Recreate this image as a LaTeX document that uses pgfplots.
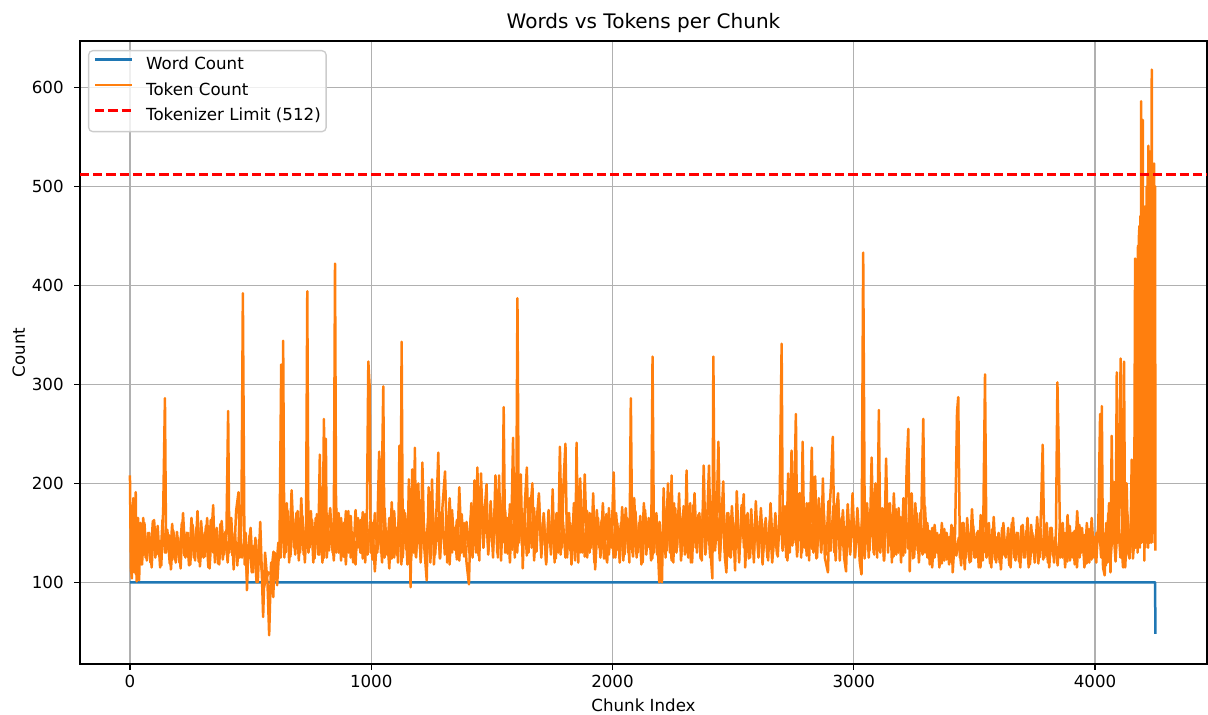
\documentclass[border=0pt]{standalone}
\usepackage{fontspec}
\setmainfont{DejaVu Sans}
\usepackage{pgfplots}
\pgfplotsset{compat=1.18}
\definecolor{mplblue}{HTML}{1F77B4}
\definecolor{mplorange}{HTML}{FF7F0E}
\definecolor{gridgray}{HTML}{B0B0B0}
\definecolor{legedge}{HTML}{CCCCCC}
\begin{document}
\begin{tikzpicture}
\begin{axis}[
  name=ax,
  scale only axis,
  width=676.2pt, height=373.8pt,
  xmin=-207, xmax=4464, ymin=17.5, ymax=646.8,
  xtick={0,1000,2000,3000,4000},
  ytick={100,200,300,400,500,600},
  scaled ticks=false,
  /pgf/number format/1000 sep={},
  /pgf/number format/assume math mode=true,
  tick pos=left,
  tick align=outside,
  major tick length=3.5pt,
  tick style={black, line width=0.8pt},
  axis line style={black, line width=0.8pt},
  grid=major,
  major grid style={gridgray, line width=0.8pt},
  tick label style={font=\fontsize{10}{12}\selectfont},
  xticklabel style={anchor=base, inner sep=0pt, yshift=-10.9pt},
  yticklabel style={anchor=east, inner sep=0pt, xshift=-6.1pt},
  xlabel={Chunk Index},
  ylabel={Count},
  xlabel style={at={([yshift=-28.5pt]axis description cs:0.5,0)}, anchor=base, inner sep=0pt, font=\fontsize{10}{12}\selectfont},
  ylabel style={at={([xshift=-33pt]axis description cs:0,0.5)}, anchor=base, inner sep=0pt, font=\fontsize{10}{12}\selectfont},
  title={Words vs Tokens per Chunk},
  every axis title/.style={at={([yshift=7.2pt]axis description cs:0.5,1)}, anchor=base, inner sep=0pt, font=\fontsize{12}{14.4}\selectfont},
  legend cell align=left,
  legend style={at={(0,1)}, anchor=north west, xshift=4.8pt, yshift=-5.4pt,
    draw=legedge, line width=0.8pt, rounded corners=2.5pt, fill=white, fill opacity=0.8, text opacity=1,
    inner xsep=3.2pt, inner ysep=1.35pt, column sep=7.8pt,
    nodes={inner sep=0pt, text height=10.2pt, text depth=5.1pt, font=\fontsize{10}{12}\selectfont}},
  legend image code/.code={\draw[#1] (0pt,3.6pt) -- (22pt,3.6pt);},
]
\addplot[mplblue, line width=1.5pt, line join=round] coordinates {(0,100)(4249,100)(4250,48)};
\addlegendentry{Word Count}
\addplot[mplorange, line width=1.5pt, line join=round] coordinates {
(0,208)(4,115)(8,104)(14,185)(18,110)(24,191)(28,101)(34,165)(38,102)(44,160)(50,118)(60,160)(70,122)(80,150)(90,115)(100,163)(110,128)(120,140)(130,117)(138,175)(145,286)(150,130)(160,148)(170,113)(180,152)(190,120)(200,145)(210,114)(220,170)(230,125)(240,150)(250,118)(260,158)(270,122)(280,172)(290,116)(300,150)(310,126)(320,165)(330,114)(338,148)(345,178)(352,120)(360,155)(370,118)(380,162)(390,128)(400,150)(407,273)(412,130)(420,165)(430,113)(440,172)(450,191)(455,125)(462,160)(468,392)(475,118)(480,150)(485,92)(490,130)(500,155)(510,110)(520,145)(530,100)(540,161)(546,115)(552,65)(560,130)(570,100)(577,46.5)(585,120)(594,85)(600,130)(610,97)(620,140)(627,320)(631,150)(635,344)(640,125)(650,180)(660,120)(670,193)(680,135)(690,170)(700,122)(710,185)(720,128)(730,160)(735,394)(740,130)(750,172)(760,120)(770,165)(780,128)(787,229)(792,140)(798,120)(804,265)(808,150)(812,245)(816,125)(824,160)(830,175)(840,130)(845,160)(850,422)(855,130)(865,170)(875,122)(885,160)(895,118)(905,172)(915,125)(925,150)(935,118)(945,165)(955,130)(965,171)(975,120)(982,160)(988,323)(993,300)(998,130)
(1005,160)(1015,111)(1025,150)(1033,232)(1040,130)(1046,230)(1050,298)(1055,125)(1065,150)(1075,114)(1085,181)(1095,125)(1105,155)(1111,120)(1117,238)(1122,150)(1126,343)(1131,125)(1140,170)(1150,118)(1156,204)(1163,95)(1170,214)(1176,130)(1181,236)(1186,125)(1195,200)(1205,120)(1212,221)(1220,135)(1230,102)(1238,196)(1245,130)(1252,204)(1260,118)(1270,170)(1278,231)(1285,125)(1295,175)(1306,212)(1315,120)(1325,185)(1335,130)(1345,155)(1355,123)(1365,196)(1375,130)(1385,160)(1395,120)(1405,98)(1412,165)(1420,125)(1428,203)(1434,130)(1440,216)(1448,122)(1455,210)(1465,135)(1471,175)(1478,199)(1485,128)(1495,170)(1505,125)(1515,208)(1522,130)(1530,208)(1538,122)(1544,160)(1549,277)(1555,130)(1565,165)(1575,120)(1582,170)(1588,246)(1595,125)(1601,160)(1606,387)(1612,140)(1620,209)(1628,114)(1637,180)(1645,216)(1652,130)(1660,175)(1668,200)(1675,122)(1685,160)(1695,190)(1705,125)(1715,170)(1725,118)(1735,165)(1745,128)(1752,194)(1760,120)(1768,170)(1775,130)(1782,237)(1790,135)(1797,200)(1805,240)(1812,125)(1820,170)(1830,118)(1840,180)(1846,130)(1851,241)(1858,120)(1866,205)(1875,130)(1885,209)(1895,125)(1905,170)(1912,135)(1920,190)(1928,113)(1940,165)(1950,125)(1960,180)(1970,130)(1978,120)(1985,175)(1995,135)
(2005,211)(2012,125)(2020,160)(2030,120)(2040,176)(2050,128)(2060,165)(2070,120)(2076,286)(2082,130)(2090,185)(2100,125)(2110,160)(2120,118)(2130,180)(2140,128)(2150,165)(2160,122)(2166,328)(2172,130)(2182,170)(2194,100)(2200,150)(2205,100)(2212,195)(2220,125)(2230,200)(2238,130)(2245,208)(2252,120)(2260,175)(2268,135)(2276,190)(2284,122)(2292,170)(2300,128)(2307,213)(2314,125)(2322,180)(2330,120)(2340,190)(2350,130)(2360,170)(2370,122)(2378,218)(2386,130)(2394,175)(2400,218)(2408,125)(2414,104)(2418,328)(2424,140)(2432,170)(2439,242)(2446,130)(2452,165)(2459,202)(2466,125)(2472,110)(2480,170)(2490,125)(2500,160)(2508,112)(2515,192)(2525,130)(2535,160)(2544,189)(2550,115)(2560,170)(2570,125)(2578,160)(2586,120)(2594,182)(2604,130)(2612,165)(2622,118)(2632,160)(2642,125)(2652,163)(2662,120)(2672,155)(2682,128)(2692,165)(2701,341)(2706,135)(2712,176)(2720,125)(2728,210)(2735,130)(2742,233)(2750,140)(2755,205)(2760,270)(2766,130)(2775,190)(2782,125)(2788,242)(2795,135)(2805,180)(2815,122)(2826,236)(2833,130)(2840,207)(2848,125)(2856,180)(2865,130)(2872,205)(2880,125)(2893,110)(2900,175)(2906,200)(2913,247)(2920,130)(2928,175)(2935,190)(2942,122)(2950,165)(2960,125)(2968,111)(2975,170)(2985,128)(2995,190)
(3005,125)(3015,165)(3025,120)(3032,108)(3039,433)(3046,130)(3054,175)(3062,125)(3068,160)(3074,226)(3082,130)(3090,200)(3097,125)(3104,274)(3110,130)(3118,175)(3126,122)(3134,225)(3142,130)(3150,180)(3158,120)(3166,190)(3176,128)(3186,175)(3196,120)(3206,185)(3213,130)(3219,215)(3226,255)(3232,111)(3240,190)(3250,125)(3260,170)(3270,120)(3280,165)(3288,265)(3295,130)(3305,160)(3315,118)(3325,155)(3335,125)(3345,150)(3355,115)(3365,160)(3375,122)(3385,150)(3395,118)(3405,158)(3410,110)(3420,150)(3428,272)(3433,287)(3440,125)(3450,160)(3460,113)(3470,165)(3480,120)(3490,174)(3500,125)(3510,150)(3518,115)(3526,168)(3535,122)(3544,310)(3550,125)(3560,160)(3570,115)(3580,166)(3590,120)(3600,150)(3610,113)(3620,160)(3630,125)(3640,155)(3650,115)(3660,165)(3670,122)(3680,150)(3690,115)(3700,158)(3710,125)(3720,165)(3730,118)(3740,150)(3750,120)(3760,166)(3770,125)(3777,181)(3783,239)(3790,125)(3800,160)(3810,115)(3820,155)(3830,120)(3838,150)(3844,302)(3850,225)(3856,125)(3866,160)(3876,115)(3886,168)(3896,122)(3906,150)(3916,118)(3926,172)(3936,125)(3946,155)(3956,115)(3966,160)(3976,120)(3986,165)(3996,125)
(4006,150)(4013,150)(4021,270)(4025,125)(4028,278)(4033,115)(4040,107)(4046,160)(4052,120)(4058,180)(4064,110)(4069,248)(4074,150)(4080,201)(4085,125)(4090,312)(4096,140)(4101,201)(4106,326)(4112,130)(4116,115)(4120,323)(4125,124)(4131,200)(4137,130)(4143,124)(4148,160)(4152,224)(4157,124)(4162,140)
(4166,427)(4168,135)(4170,415)(4172,140)(4174,425)(4176,130)(4178,440)(4180,150)(4182,450)(4184,460)(4186,135)(4188,470)(4190,145)(4191,586)(4193,140)(4195,500)(4197,180)(4198,567)(4200,258)(4202,480)(4204,122)(4206,470)(4208,135)(4210,480)(4212,140)(4214,500)(4216,150)(4218,510)(4220,135)(4221,541)(4223,150)(4225,490)(4227,140)(4228,535)(4230,185)(4232,500)(4234,140)(4235,618)(4237,185)(4239,510)(4241,150)(4243,490)(4245,523)(4247,140)(4249,500)(4250,132)
};
\addlegendentry{Token Count}
\addplot[mplorange, line width=1.5pt, line join=round, forget plot] coordinates {
(5,110)(15,175)(25,108)(35,160)(45,118)(55,165)(65,125)(75,150)(85,120)(95,162)
(105,125)(115,157)(125,115)(135,163)(145,130)(155,153)(165,119)(175,159)(185,123)(195,151)
(205,120)(215,160)(225,127)(235,150)(245,117)(255,165)(265,125)(275,155)(285,121)(295,162)
(305,125)(315,157)(325,115)(335,163)(345,130)(355,153)(365,119)(375,159)(385,123)(395,151)
(405,120)(415,160)(425,127)(435,150)(445,117)(455,165)(465,125)(475,140)(485,106)(495,147)
(505,110)(515,137)(525,100)(535,143)(545,115)(555,95)(565,104)(575,110)(585,108)(595,131)
(605,110)(615,140)(625,125)(635,170)(645,130)(655,172)(665,126)(675,165)(685,128)(695,172)
(705,130)(715,167)(725,120)(735,173)(745,135)(755,163)(765,124)(775,169)(785,128)(795,161)
(805,125)(815,170)(825,132)(835,160)(845,122)(855,175)(865,130)(875,165)(885,126)(895,172)
(905,130)(915,167)(925,120)(935,173)(945,135)(955,163)(965,124)(975,169)(985,128)(995,161)
(1005,123)(1015,170)(1025,130)(1035,160)(1045,120)(1055,175)(1065,128)(1075,165)(1085,124)(1095,172)
(1105,128)(1115,167)(1125,118)(1135,173)(1145,133)(1155,163)(1165,122)(1175,169)(1185,126)(1195,161)
(1205,123)(1215,170)(1225,130)(1235,160)(1245,120)(1255,175)(1265,128)(1275,165)(1285,124)(1295,172)
(1305,128)(1315,167)(1325,118)(1335,173)(1345,133)(1355,163)(1365,122)(1375,169)(1385,126)(1395,161)
(1405,130)(1415,180)(1425,137)(1435,170)(1445,127)(1455,185)(1465,135)(1475,175)(1485,131)(1495,182)
(1505,135)(1515,177)(1525,125)(1535,183)(1545,140)(1555,173)(1565,129)(1575,179)(1585,133)(1595,171)
(1605,130)(1615,180)(1625,137)(1635,170)(1645,127)(1655,185)(1665,135)(1675,175)(1685,131)(1695,182)
(1705,130)(1715,167)(1725,120)(1735,173)(1745,135)(1755,163)(1765,124)(1775,169)(1785,128)(1795,161)
(1805,125)(1815,170)(1825,132)(1835,160)(1845,122)(1855,175)(1865,130)(1875,165)(1885,126)(1895,172)
(1905,130)(1915,167)(1925,120)(1935,173)(1945,135)(1955,163)(1965,124)(1975,169)(1985,128)(1995,161)
(2005,125)(2015,170)(2025,132)(2035,160)(2045,122)(2055,175)(2065,130)(2075,165)(2085,126)(2095,172)
(2105,130)(2115,167)(2125,120)(2135,173)(2145,135)(2155,163)(2165,124)(2175,169)(2185,128)(2195,161)
(2205,125)(2215,175)(2225,132)(2235,165)(2245,122)(2255,180)(2265,130)(2275,170)(2285,126)(2295,177)
(2305,130)(2315,172)(2325,120)(2335,178)(2345,135)(2355,168)(2365,124)(2375,174)(2385,128)(2395,166)
(2405,125)(2415,175)(2425,132)(2435,165)(2445,122)(2455,180)(2465,130)(2475,170)(2485,126)(2495,177)
(2505,130)(2515,172)(2525,120)(2535,178)(2545,135)(2555,168)(2565,124)(2575,174)(2585,128)(2595,166)
(2605,125)(2615,175)(2625,132)(2635,165)(2645,122)(2655,180)(2665,130)(2675,170)(2685,126)(2695,177)
(2705,132)(2715,177)(2725,122)(2735,183)(2745,137)(2755,173)(2765,126)(2775,179)(2785,130)(2795,171)
(2805,127)(2815,180)(2825,134)(2835,170)(2845,124)(2855,185)(2865,132)(2875,175)(2885,128)(2895,182)
(2905,132)(2915,177)(2925,122)(2935,183)(2945,137)(2955,173)(2965,126)(2975,179)(2985,130)(2995,171)
(3005,127)(3015,175)(3025,134)(3035,165)(3045,124)(3055,180)(3065,132)(3075,170)(3085,128)(3095,177)
(3105,132)(3115,172)(3125,122)(3135,178)(3145,137)(3155,168)(3165,126)(3175,174)(3185,130)(3195,166)
(3205,127)(3215,175)(3225,134)(3235,165)(3245,124)(3255,180)(3265,132)(3275,170)(3285,128)(3295,177)
(3305,125)(3315,152)(3325,115)(3335,158)(3345,130)(3355,148)(3365,119)(3375,154)(3385,123)(3395,146)
(3405,120)(3415,155)(3425,127)(3435,145)(3445,117)(3455,160)(3465,125)(3475,150)(3485,121)(3495,157)
(3505,125)(3515,152)(3525,115)(3535,158)(3545,130)(3555,148)(3565,119)(3575,154)(3585,123)(3595,146)
(3605,120)(3615,155)(3625,127)(3635,145)(3645,117)(3655,160)(3665,125)(3675,150)(3685,121)(3695,157)
(3705,125)(3715,152)(3725,115)(3735,158)(3745,130)(3755,148)(3765,119)(3775,154)(3785,123)(3795,146)
(3805,120)(3815,155)(3825,127)(3835,145)(3845,117)(3855,160)(3865,125)(3875,150)(3885,121)(3895,157)
(3905,125)(3915,152)(3925,115)(3935,158)(3945,130)(3955,148)(3965,119)(3975,154)(3985,123)(3995,146)
(4005,120)(4015,165)(4025,127)(4035,150)(4045,117)(4055,170)(4065,125)(4075,160)(4085,121)(4095,167)
(4105,125)(4115,162)(4125,115)(4135,168)(4145,130)(4155,158)
};
\addplot[red, line width=1.5pt, dash pattern=on 5.55pt off 2.4pt] coordinates {(-207,512)(4464,512)};
\addlegendentry{Tokenizer Limit (512)}
\end{axis}
\pgfresetboundingbox
\useasboundingbox ([xshift=-48pt,yshift=-30.6pt]ax.south west) rectangle ([xshift=0.6pt,yshift=24.6pt]ax.north east);
\end{tikzpicture}
\end{document}
